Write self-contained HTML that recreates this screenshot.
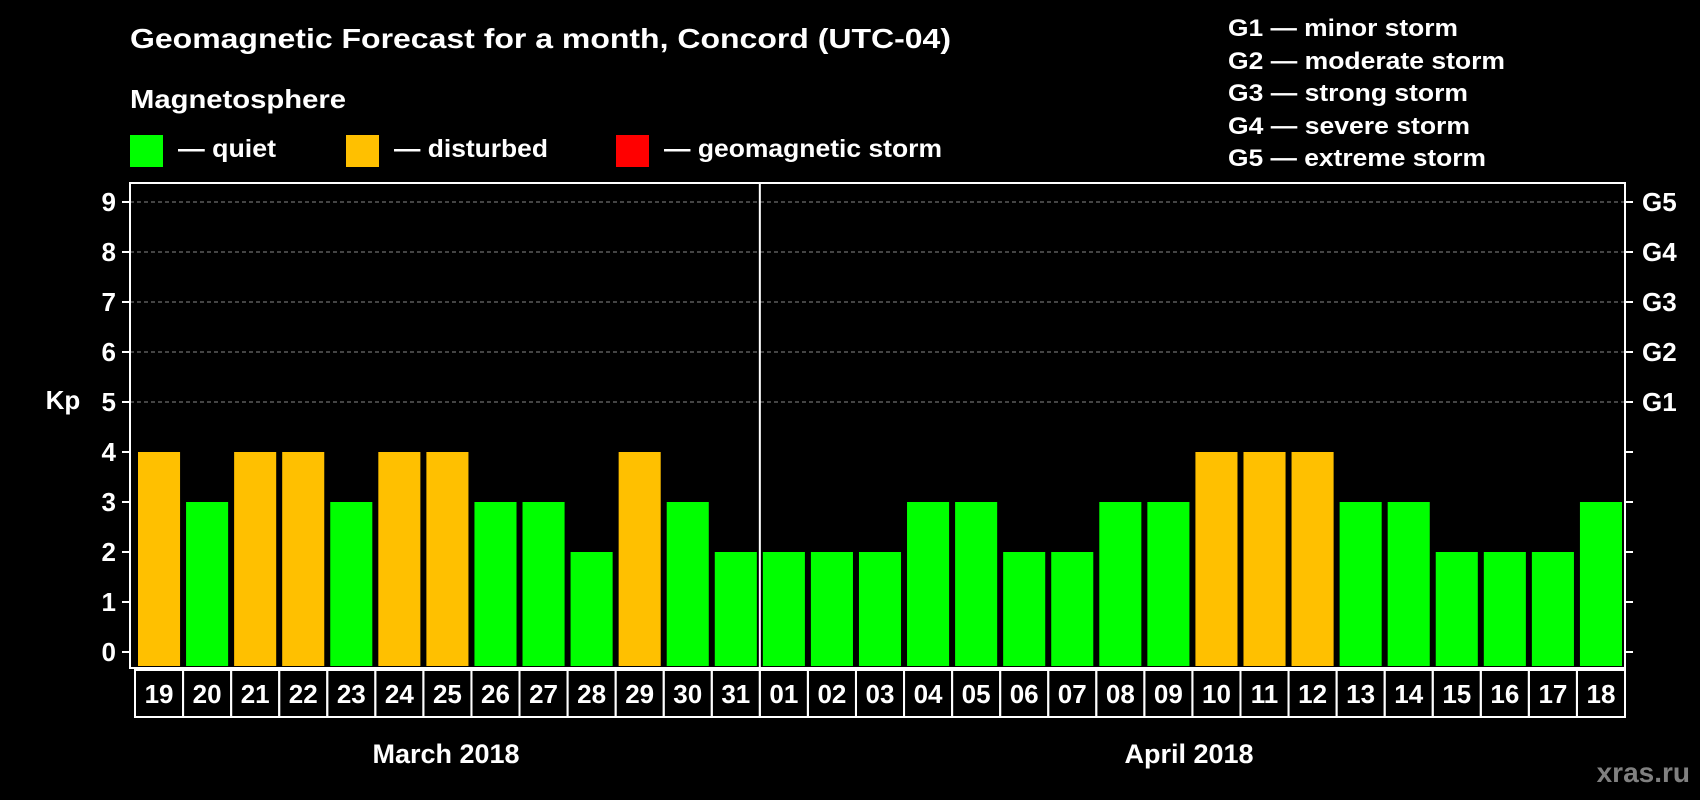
<!DOCTYPE html>
<html><head><meta charset="utf-8"><style>
html,body{margin:0;padding:0;background:#000;}
svg{display:block;font-family:"Liberation Sans",Arial,sans-serif;font-weight:bold;}
</style></head><body>
<svg id="chart" width="1700" height="800" viewBox="0 0 1700 800">
<rect width="1700" height="800" fill="#000"/>
<text x="130" y="48" fill="#fff" font-size="28" textLength="821" lengthAdjust="spacingAndGlyphs">Geomagnetic Forecast for a month, Concord (UTC-04)</text>
<text x="130" y="108" fill="#fff" font-size="26" textLength="216" lengthAdjust="spacingAndGlyphs">Magnetosphere</text>
<rect x="130" y="135" width="33" height="32" fill="#00ff00"/>
<text x="178" y="157" fill="#fff" font-size="25" textLength="98" lengthAdjust="spacingAndGlyphs">— quiet</text>
<rect x="346" y="135" width="33" height="32" fill="#ffc000"/>
<text x="394" y="157" fill="#fff" font-size="25" textLength="154" lengthAdjust="spacingAndGlyphs">— disturbed</text>
<rect x="616" y="135" width="33" height="32" fill="#ff0000"/>
<text x="664" y="157" fill="#fff" font-size="25" textLength="278" lengthAdjust="spacingAndGlyphs">— geomagnetic storm</text>
<g fill="#fff" font-size="24">
<text x="1228" y="36" textLength="230" lengthAdjust="spacingAndGlyphs">G1 — minor storm</text>
<text x="1228" y="69" textLength="277" lengthAdjust="spacingAndGlyphs">G2 — moderate storm</text>
<text x="1228" y="101" textLength="240" lengthAdjust="spacingAndGlyphs">G3 — strong storm</text>
<text x="1228" y="134" textLength="242" lengthAdjust="spacingAndGlyphs">G4 — severe storm</text>
<text x="1228" y="166" textLength="258" lengthAdjust="spacingAndGlyphs">G5 — extreme storm</text>
</g>
<text x="63" y="409" fill="#fff" font-size="26" text-anchor="middle">Kp</text>
<text x="446" y="763" fill="#fff" font-size="27" text-anchor="middle">March 2018</text>
<text x="1189" y="763" fill="#fff" font-size="27" text-anchor="middle">April 2018</text>
<text x="1690" y="782" fill="#808080" font-size="28" text-anchor="end">xras.ru</text>
<g id="plot"></g>
</svg>
<script>
const days = ["19","20","21","22","23","24","25","26","27","28","29","30","31","01","02","03","04","05","06","07","08","09","10","11","12","13","14","15","16","17","18"];
const kpValues = [4,3,4,4,3,4,4,3,3,2,4,3,2,2,2,2,3,3,2,2,3,3,4,4,4,3,3,2,2,2,3];
const yTicks = [0,1,2,3,4,5,6,7,8,9];
const gLabels = ["G1","G2","G3","G4","G5"];
const gLevels = [5,6,7,8,9];

const NS = "http://www.w3.org/2000/svg";
const g = document.getElementById("plot");
const L = 130, R = 1625, T = 183, B = 668;
const Y0 = 652, UNIT = 50;
const y = v => Y0 - v * UNIT;
const slot = (R - L - 5) / days.length;
const xStart = i => 135 + i * slot;
function mk(tag, attrs){ const e=document.createElementNS(NS,tag); for(const k in attrs) e.setAttribute(k,attrs[k]); g.appendChild(e); return e; }

gLevels.forEach((lv,i)=>{
  const ln = mk("line",{x1:L,x2:R,y1:y(lv),y2:y(lv),stroke:"#888","stroke-width":1,"stroke-dasharray":"4,3"});
  
  
  const t = mk("text",{x:1642,y:y(lv)+9,fill:"#fff","font-size":26});
  t.textContent = gLabels[i];
  
  
});
yTicks.forEach(v=>{
  const tk = mk("line",{x1:L-8,x2:L,y1:y(v),y2:y(v),stroke:"#fff","stroke-width":2});
  
  
  const tr = mk("line",{x1:R,x2:R+8,y1:y(v),y2:y(v),stroke:"#fff","stroke-width":2});
  
  
  const t = mk("text",{x:116,y:y(v)+9,fill:"#fff","font-size":26,"text-anchor":"end"});
  t.textContent = v;
  
  
});
kpValues.forEach((v,i)=>{
  const x0 = xStart(i);
  const b = mk("rect",{x:x0+3,y:y(v),width:slot-6,height:B-2-y(v),fill: v>=5?"#ff0000":(v>=4?"#ffc000":"#00ff00")});
  
  
  const box = mk("rect",{x:x0,y:B+2,width:slot,height:47,fill:"none",stroke:"#fff","stroke-width":2});
  
  
  const t = mk("text",{x:x0+slot/2,y:B+35,fill:"#fff","font-size":26,"text-anchor":"middle"});
  t.textContent = days[i];
  
  
});
const frame = mk("rect",{x:L,y:T,width:R-L,height:B-T,fill:"none",stroke:"#fff","stroke-width":2});


const sep = mk("line",{x1:xStart(13),x2:xStart(13),y1:T,y2:B,stroke:"#fff","stroke-width":2});


</script>
</body></html>
